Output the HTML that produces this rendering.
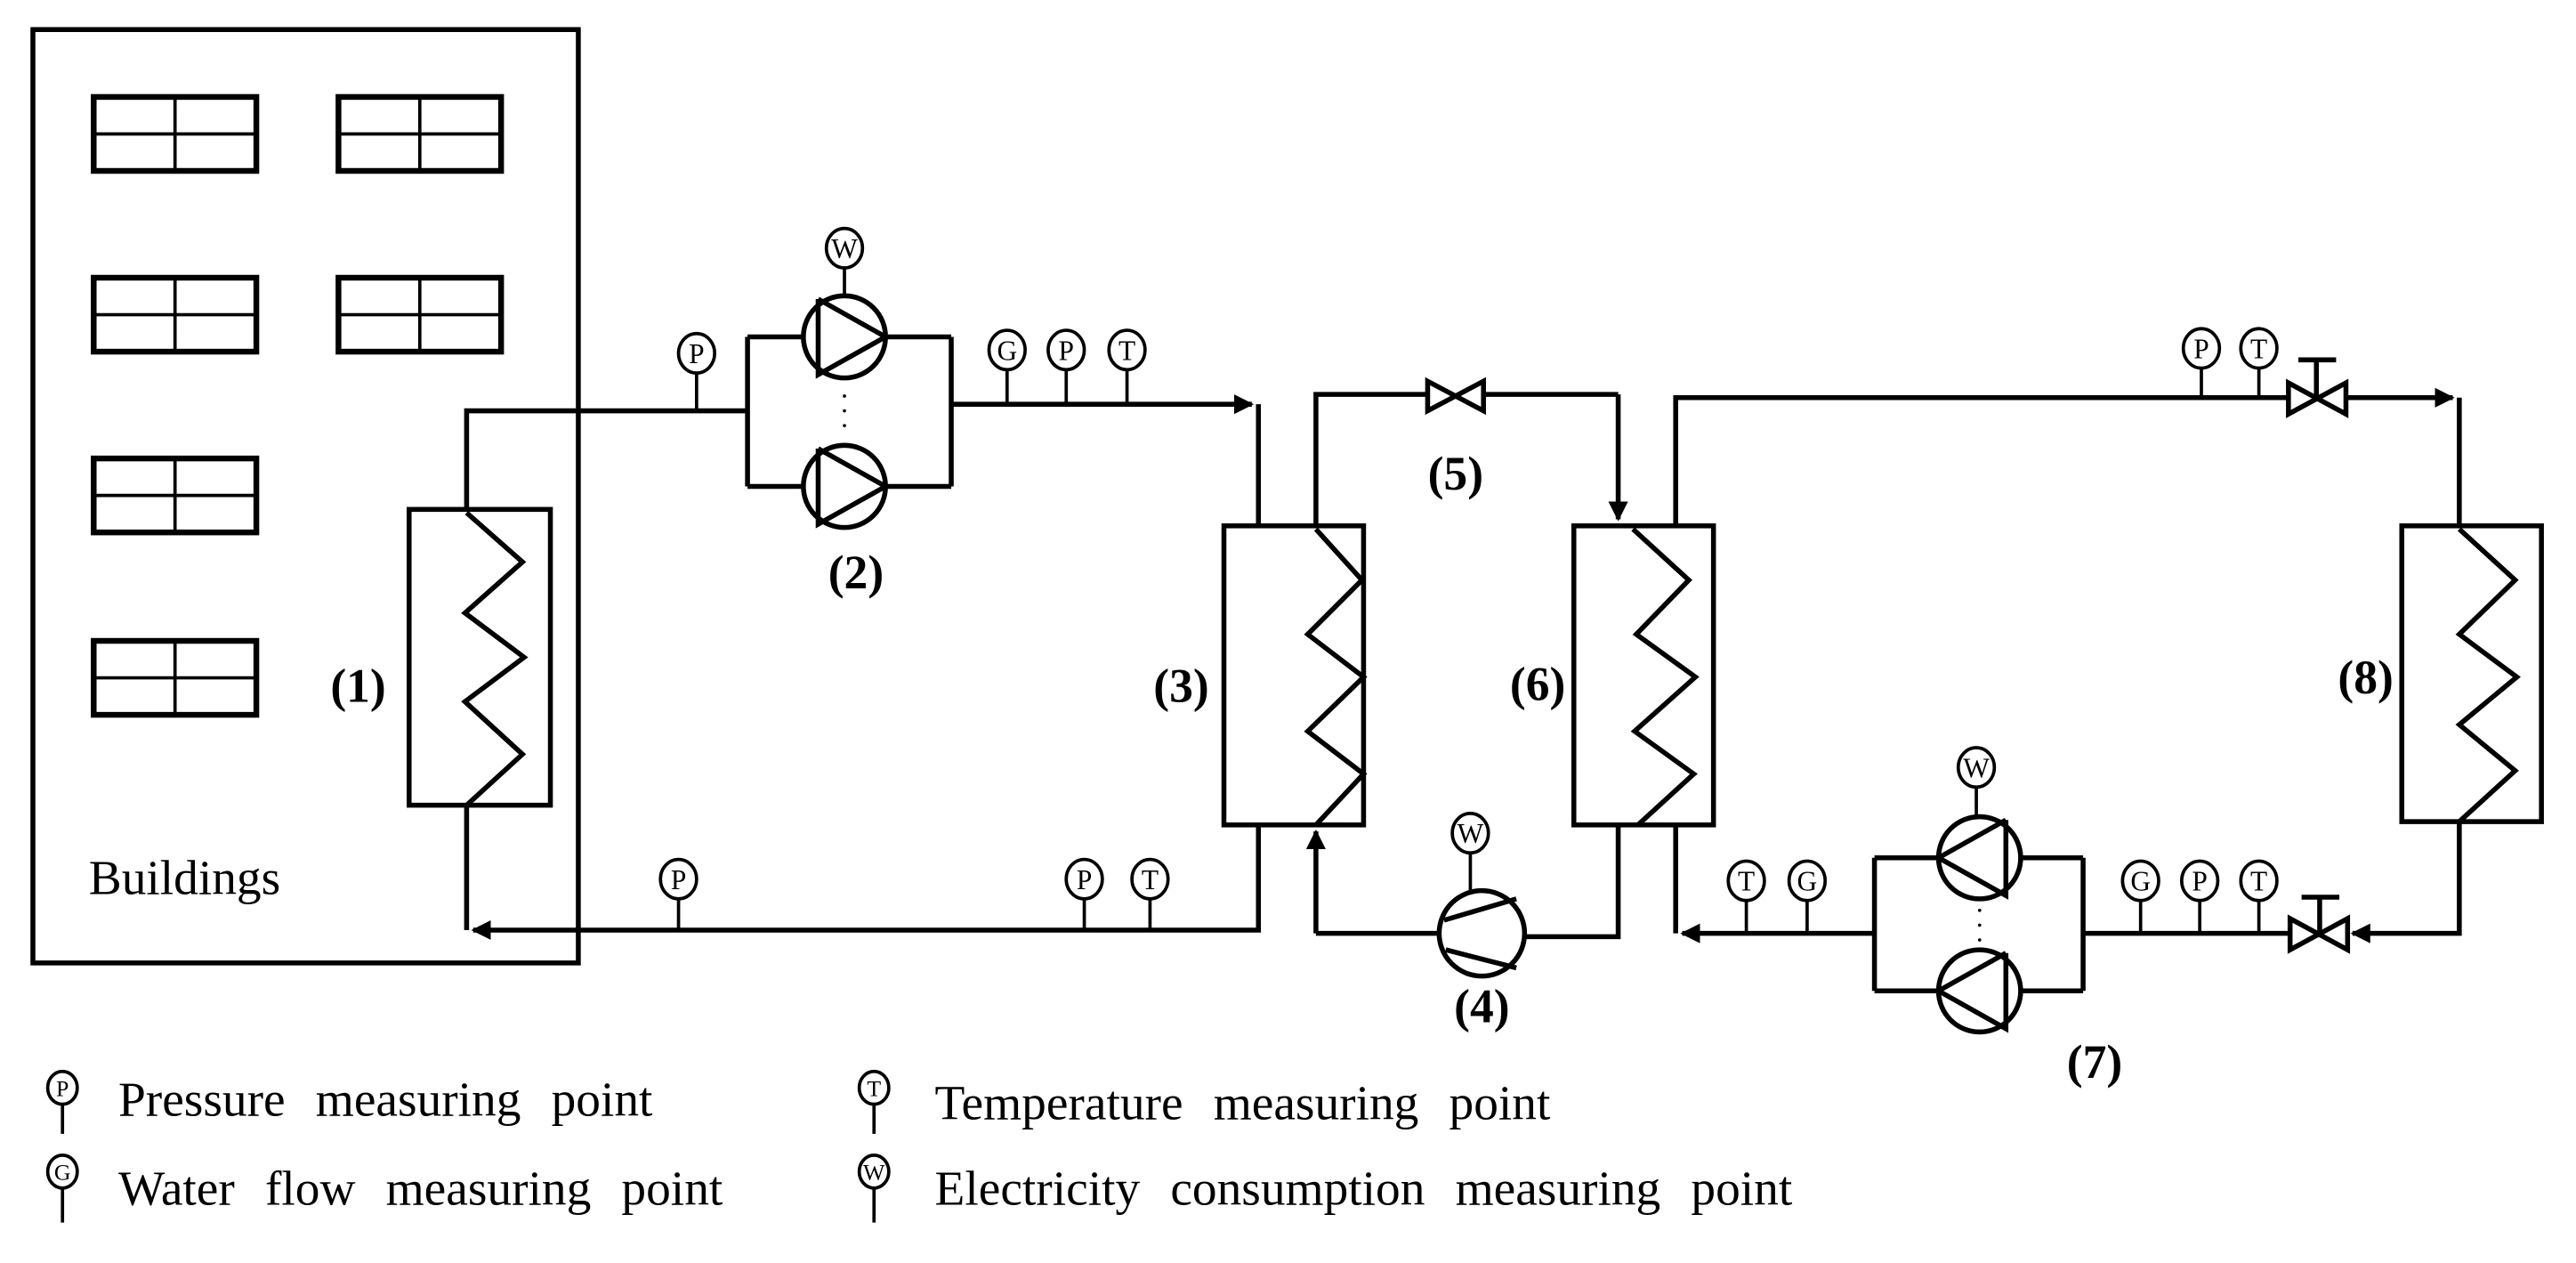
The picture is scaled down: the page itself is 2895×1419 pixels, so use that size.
<!DOCTYPE html>
<html><head><meta charset="utf-8"><style>
html,body{margin:0;padding:0;background:#fff}
svg{display:block}
text{font-family:"Liberation Serif",serif;fill:#000}
</style></head><body>
<svg width="2895" height="1419" viewBox="0 0 1568 768.6" xmlns="http://www.w3.org/2000/svg">
<defs>
<marker id="ar" viewBox="0 0 10 10" refX="9" refY="5" markerWidth="4" markerHeight="4" orient="auto-start-reverse" markerUnits="strokeWidth"><path d="M0,0 L10,5 L0,10 z" fill="#000"/></marker>
<g id="win"><rect x="0" y="0" width="99" height="45" fill="none" stroke="#000" stroke-width="3.5"/><line x1="49.5" y1="0" x2="49.5" y2="45" stroke="#000" stroke-width="2"/><line x1="0" y1="22.5" x2="99" y2="22.5" stroke="#000" stroke-width="2"/></g>
</defs>
<g fill="none" stroke="#000" stroke-width="3">
<rect x="20" y="18" width="332" height="568" stroke-width="3"/>
</g>
<use href="#win" x="57" y="59"/><use href="#win" x="206" y="59"/>
<use href="#win" x="57" y="169"/><use href="#win" x="206" y="169"/>
<use href="#win" x="57" y="279"/><use href="#win" x="57" y="390"/>
<text x="54" y="544" font-size="30">Buildings</text>

<g fill="none" stroke="#000" stroke-width="3" stroke-linejoin="miter">
<rect x="249" y="310" width="86" height="180"/>
<rect x="745" y="320" width="85" height="182"/>
<rect x="958" y="320" width="85" height="182"/>
<rect x="1462" y="320" width="85" height="180"/>
<polyline points="284,312 318,342 283,373 319,400 283,427 318,459 284,490"/>
<polyline points="801,322 829,353 796,386 830,412 796,445 830,471 801,502"/>
<polyline points="994,322 1028,353 996,386 1032,412 995,445 1031,471 997,502"/>
<polyline points="1497,322 1531,353 1497,386 1532,412 1497,441 1531,469 1497,500"/>

<polyline points="284,310 284,250 455,250"/>
<polyline points="455,205 455,296"/>
<line x1="455" y1="205" x2="489" y2="205"/><line x1="539" y1="205" x2="579" y2="205"/>
<line x1="455" y1="296" x2="489" y2="296"/><line x1="539" y1="296" x2="579" y2="296"/>
<line x1="579" y1="205" x2="579" y2="296"/>
<line x1="579" y1="246" x2="762" y2="246" marker-end="url(#ar)"/>
<line x1="766" y1="246" x2="766" y2="320"/>
<polyline points="766,502 766,566 288,566" marker-end="url(#ar)"/>
<line x1="284" y1="490" x2="284" y2="566"/>
<circle cx="514" cy="205" r="25"/><circle cx="514" cy="296" r="25"/>
<polyline points="498,182 539,205 498,228 498,182"/>
<polyline points="498,273 539,296 498,319 498,273"/>

<polyline points="801,320 801,240 868,240"/>
<line x1="904" y1="240" x2="985" y2="240"/>
<line x1="985" y1="240" x2="985" y2="316" marker-end="url(#ar)"/>
<polygon points="869,232 869,250 903,232 903,250" stroke-width="3"/>
<polyline points="985,502 985,570 928,570"/>
<line x1="876" y1="568" x2="801" y2="568"/>
<line x1="801" y1="568" x2="801" y2="506" marker-end="url(#ar)"/>
<circle cx="902" cy="568" r="26"/>
<line x1="879" y1="560" x2="923" y2="547"/>
<line x1="880" y1="578" x2="923" y2="589"/>

<polyline points="1020,320 1020,242 1392,242"/>
<line x1="1428" y1="242" x2="1493" y2="242" marker-end="url(#ar)"/>
<line x1="1497" y1="242" x2="1497" y2="320"/>
<polygon points="1393,233 1393,252 1428,233 1428,252"/>
<line x1="1410" y1="242" x2="1410" y2="219"/><line x1="1399" y1="219" x2="1422" y2="219"/>
<polyline points="1497,500 1497,568 1432,568" marker-end="url(#ar)"/>
<polygon points="1394,559 1394,578 1429,559 1429,578"/>
<line x1="1412" y1="568" x2="1412" y2="546"/><line x1="1401" y1="546" x2="1424" y2="546"/>
<line x1="1394" y1="568" x2="1268" y2="568"/>
<line x1="1268" y1="522" x2="1268" y2="603"/>
<line x1="1141" y1="522" x2="1141" y2="603"/>
<line x1="1141" y1="522" x2="1180" y2="522"/><line x1="1230" y1="522" x2="1268" y2="522"/>
<line x1="1141" y1="603" x2="1180" y2="603"/><line x1="1230" y1="603" x2="1268" y2="603"/>
<circle cx="1205" cy="522" r="25"/><circle cx="1205" cy="603" r="25"/>
<polyline points="1221,499 1180,522 1221,545 1221,499"/>
<polyline points="1221,580 1180,603 1221,626 1221,580"/>
<polyline points="1141,568 1024,568" marker-end="url(#ar)"/>
<line x1="1020" y1="502" x2="1020" y2="568"/>
</g>
<g fill="#000"><circle cx="514" cy="241" r="1"/><circle cx="514" cy="250" r="1"/><circle cx="514" cy="259" r="1"/>
<circle cx="1205" cy="554" r="1"/><circle cx="1205" cy="563" r="1"/><circle cx="1205" cy="572" r="1"/></g>

<g stroke="#000" stroke-width="2">
<line x1="424" y1="226" x2="424" y2="250"/>
<line x1="514" y1="162" x2="514" y2="180"/>
<line x1="613" y1="224" x2="613" y2="246"/><line x1="649" y1="224" x2="649" y2="246"/><line x1="686" y1="224" x2="686" y2="246"/>
<line x1="413" y1="546" x2="413" y2="566"/><line x1="660" y1="546" x2="660" y2="566"/><line x1="700" y1="546" x2="700" y2="566"/>
<line x1="895" y1="518" x2="895" y2="542"/>
<line x1="1340" y1="223" x2="1340" y2="242"/><line x1="1375" y1="223" x2="1375" y2="242"/>
<line x1="1203" y1="478" x2="1203" y2="497"/>
<line x1="1063" y1="547" x2="1063" y2="568"/><line x1="1100" y1="547" x2="1100" y2="568"/>
<line x1="1303" y1="547" x2="1303" y2="568"/><line x1="1339" y1="547" x2="1339" y2="568"/><line x1="1375" y1="547" x2="1375" y2="568"/>
<line x1="38" y1="672" x2="38" y2="690"/><line x1="38" y1="723" x2="38" y2="744"/>
<line x1="532" y1="672" x2="532" y2="690"/><line x1="532" y1="723" x2="532" y2="744"/>
</g>
<g fill="#fff" stroke="#000" stroke-width="2">
<ellipse cx="424" cy="215" rx="11" ry="12"/>
<ellipse cx="514" cy="151" rx="11" ry="12"/>
<ellipse cx="613" cy="213" rx="11" ry="12"/><ellipse cx="649" cy="213" rx="11" ry="12"/><ellipse cx="686" cy="213" rx="11" ry="12"/>
<ellipse cx="413" cy="535" rx="11" ry="12"/><ellipse cx="660" cy="535" rx="11" ry="12"/><ellipse cx="700" cy="535" rx="11" ry="12"/>
<ellipse cx="895" cy="507" rx="11" ry="12"/>
<ellipse cx="1340" cy="212" rx="11" ry="12"/><ellipse cx="1375" cy="212" rx="11" ry="12"/>
<ellipse cx="1203" cy="467" rx="11" ry="12"/>
<ellipse cx="1063" cy="536" rx="11" ry="12"/><ellipse cx="1100" cy="536" rx="11" ry="12"/>
<ellipse cx="1303" cy="536" rx="11" ry="12"/><ellipse cx="1339" cy="536" rx="11" ry="12"/><ellipse cx="1375" cy="536" rx="11" ry="12"/>
<ellipse cx="38" cy="662" rx="9" ry="10"/><ellipse cx="38" cy="713" rx="9" ry="10"/>
<ellipse cx="532" cy="662" rx="9" ry="10"/><ellipse cx="532" cy="713" rx="9" ry="10"/>
</g>
<g font-size="17" text-anchor="middle">
<text x="424" y="221">P</text><text x="514" y="157">W</text>
<text x="613" y="219">G</text><text x="649" y="219">P</text><text x="686" y="219">T</text>
<text x="413" y="541">P</text><text x="660" y="541">P</text><text x="700" y="541">T</text>
<text x="895" y="513">W</text>
<text x="1340" y="218">P</text><text x="1375" y="218">T</text>
<text x="1203" y="473">W</text>
<text x="1063" y="542">T</text><text x="1100" y="542">G</text>
<text x="1303" y="542">G</text><text x="1339" y="542">P</text><text x="1375" y="542">T</text>
<text x="38" y="667" font-size="14">P</text><text x="38" y="718" font-size="14">G</text>
<text x="532" y="667" font-size="14">T</text><text x="532" y="718" font-size="14">W</text>
</g>
<g font-size="29" font-weight="bold" text-anchor="middle">
<text x="218" y="427">(1)</text>
<text x="521" y="358">(2)</text>
<text x="719" y="427">(3)</text>
<text x="902" y="622">(4)</text>
<text x="886" y="298">(5)</text>
<text x="936" y="426">(6)</text>
<text x="1275" y="656">(7)</text>
<text x="1440" y="422">(8)</text>
</g>
<g font-size="30" word-spacing="11">
<text x="72" y="679">Pressure measuring point</text>
<text x="72" y="733">Water flow measuring point</text>
<text x="569" y="681">Temperature measuring point</text>
<text x="569" y="733">Electricity consumption measuring point</text>
</g>
</svg>
</body></html>
